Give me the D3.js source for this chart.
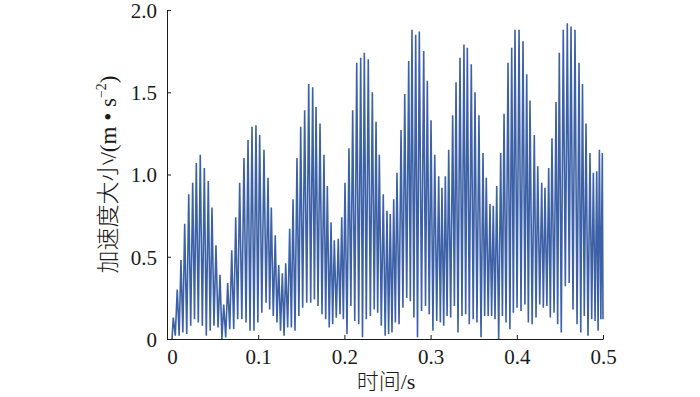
<!DOCTYPE html>
<html>
<head>
<meta charset="utf-8">
<script src="https://cdn.jsdelivr.net/npm/d3@7"></script>
<style>
  body { margin: 0; background: #fff; }
  .axis path, .axis line { stroke: #1a1a1a; stroke-width: 1; }
  .axis text { font-family: "Liberation Serif", "Times New Roman", serif; font-size: 21px; fill: #1a1a1a; }
</style>
</head>
<body>
<div id="chart"></div>
<script>
// Axis ticks
const xTicks = [0, 0.1, 0.2, 0.3, 0.4, 0.5];
const yTicks = [0, 0.5, 1.0, 1.5, 2.0];

// Local maxima of the acceleration trace (time in s, value in m/s^2)
const peakTime = [
  0.0015, 0.0061, 0.0104, 0.0147, 0.0194, 0.0240, 0.0282, 0.0328, 0.0375, 0.0421,
  0.0464, 0.0510, 0.0557, 0.0600, 0.0646, 0.0693, 0.0739, 0.0785, 0.0835, 0.0882,
  0.0928, 0.0974, 0.1017, 0.1067, 0.1114, 0.1152, 0.1198, 0.1238, 0.1280, 0.1319,
  0.1365, 0.1404, 0.1450, 0.1493, 0.1539, 0.1586, 0.1632, 0.1671, 0.1717, 0.1763,
  0.1802, 0.1845, 0.1883, 0.1929, 0.1969, 0.2007, 0.2053, 0.2096, 0.2143, 0.2189,
  0.2231, 0.2277, 0.2324, 0.2367, 0.2405, 0.2451, 0.2494, 0.2532, 0.2572, 0.2610,
  0.2657, 0.2700, 0.2746, 0.2784, 0.2827, 0.2869, 0.2920, 0.2962, 0.3005, 0.3048,
  0.3094, 0.3132, 0.3171, 0.3210, 0.3256, 0.3295, 0.3341, 0.3387, 0.3426, 0.3472,
  0.3515, 0.3561, 0.3608, 0.3646, 0.3689, 0.3727, 0.3767, 0.3813, 0.3852, 0.3898,
  0.3941, 0.3979, 0.4026, 0.4072, 0.4115, 0.4153, 0.4203, 0.4243, 0.4289, 0.4327,
  0.4370, 0.4408, 0.4455, 0.4493, 0.4539, 0.4586, 0.4629, 0.4675, 0.4722, 0.4762,
  0.4803, 0.4849, 0.4888, 0.4927, 0.4958, 0.4992
];
const peakAccel = [
  0.13, 0.30, 0.48, 0.70, 0.88, 0.95, 1.07, 1.12, 1.04, 0.96,
  0.80, 0.57, 0.39, 0.21, 0.34, 0.54, 0.74, 0.95, 1.10, 1.21,
  1.29, 1.30, 1.24, 1.15, 0.98, 0.80, 0.63, 0.45, 0.40, 0.46,
  0.67, 0.85, 1.10, 1.29, 1.39, 1.55, 1.53, 1.41, 1.31, 1.12,
  0.93, 0.71, 0.60, 0.61, 0.74, 0.95, 1.16, 1.39, 1.68, 1.71,
  1.74, 1.70, 1.50, 1.32, 1.12, 0.88, 0.78, 0.76, 0.85, 1.01,
  1.27, 1.49, 1.69, 1.88, 1.85, 1.87, 1.75, 1.57, 1.33, 1.12,
  0.99, 0.92, 0.99, 1.15, 1.36, 1.56, 1.71, 1.79, 1.77, 1.67,
  1.50, 1.36, 1.13, 0.98, 0.82, 0.81, 0.93, 1.13, 1.37, 1.68,
  1.77, 1.88, 1.88, 1.81, 1.61, 1.45, 1.24, 1.05, 0.95, 0.92,
  1.04, 1.22, 1.44, 1.74, 1.88, 1.92, 1.90, 1.88, 1.68, 1.55,
  1.31, 1.13, 1.01, 1.02, 1.15, 1.13
];

// Local minima of the trace
const troughTime = [
  0.0000, 0.0038, 0.0083, 0.0126, 0.0171, 0.0217, 0.0261, 0.0305, 0.0352, 0.0398,
  0.0443, 0.0487, 0.0534, 0.0579, 0.0623, 0.0670, 0.0716, 0.0762, 0.0810, 0.0859,
  0.0905, 0.0951, 0.0996, 0.1042, 0.1091, 0.1133, 0.1175, 0.1218, 0.1259, 0.1300,
  0.1342, 0.1385, 0.1427, 0.1472, 0.1516, 0.1563, 0.1609, 0.1652, 0.1694, 0.1740,
  0.1783, 0.1824, 0.1864, 0.1906, 0.1949, 0.1988, 0.2030, 0.2075, 0.2120, 0.2166,
  0.2210, 0.2254, 0.2301, 0.2346, 0.2386, 0.2428, 0.2473, 0.2513, 0.2552, 0.2591,
  0.2634, 0.2679, 0.2723, 0.2765, 0.2806, 0.2848, 0.2895, 0.2941, 0.2984, 0.3027,
  0.3071, 0.3113, 0.3152, 0.3191, 0.3233, 0.3276, 0.3318, 0.3364, 0.3407, 0.3449,
  0.3494, 0.3538, 0.3585, 0.3627, 0.3668, 0.3708, 0.3747, 0.3790, 0.3833, 0.3875,
  0.3920, 0.3960, 0.4003, 0.4049, 0.4094, 0.4134, 0.4178, 0.4223, 0.4266, 0.4308,
  0.4349, 0.4389, 0.4432, 0.4474, 0.4516, 0.4563, 0.4608, 0.4652, 0.4699, 0.4742,
  0.4783, 0.4826, 0.4869, 0.4908, 0.4943, 0.4975, 0.5000
];
const troughAccel = [
  0.00, 0.02, 0.02, 0.04, 0.03, 0.08, 0.12, 0.10, 0.08, 0.02,
  0.05, 0.08, 0.07, 0.00, 0.01, 0.06, 0.06, 0.12, 0.12, 0.10,
  0.05, 0.05, 0.10, 0.16, 0.22, 0.18, 0.14, 0.10, 0.05, 0.02,
  0.07, 0.07, 0.05, 0.14, 0.19, 0.22, 0.22, 0.24, 0.20, 0.15,
  0.12, 0.07, 0.09, 0.13, 0.15, 0.12, 0.03, 0.20, 0.11, 0.09,
  0.01, 0.12, 0.14, 0.18, 0.16, 0.08, 0.02, 0.03, 0.04, 0.10,
  0.09, 0.19, 0.25, 0.23, 0.13, 0.01, 0.17, 0.20, 0.15, 0.05,
  0.11, 0.10, 0.08, 0.14, 0.13, 0.20, 0.04, 0.14, 0.15, 0.09,
  0.12, 0.10, 0.01, 0.14, 0.14, 0.14, 0.12, 0.00, 0.14, 0.10,
  0.06, 0.16, 0.19, 0.17, 0.21, 0.10, 0.09, 0.13, 0.21, 0.19,
  0.20, 0.13, 0.16, 0.09, 0.04, 0.32, 0.34, 0.18, 0.09, 0.04,
  0.14, 0.02, 0.12, 0.11, 0.05, 0.12, 0.12
];

const width = 700, height = 397;
const margin = { top: 10, right: 97, bottom: 58, left: 167 };

const svg = d3.select("#chart").append("svg")
  .attr("width", width)
  .attr("height", height);

// x starts a little before 0 so the 0 tick sits off the corner
const x = d3.scaleLinear()
  .domain([-0.0058, 0.5])
  .range([margin.left, width - margin.right]);
const y = d3.scaleLinear()
  .domain([0, 2])
  .range([height - margin.bottom, margin.top]);

// interleave minima and maxima into one trace
const trace = [];
troughTime.forEach((t, i) => {
  trace.push({ t: t, a: troughAccel[i] });
  if (i < peakTime.length) trace.push({ t: peakTime[i], a: peakAccel[i] });
});
trace.sort((p, q) => p.t - q.t);

const fmt = d => d === 0 ? "0" : d.toFixed(1);

svg.append("g")
  .attr("class", "axis")
  .attr("transform", `translate(0,${height - margin.bottom})`)
  .call(d3.axisBottom(x).tickValues(xTicks).tickFormat(fmt)
    .tickSizeInner(-4).tickSizeOuter(0).tickPadding(10));

svg.append("g")
  .attr("class", "axis")
  .attr("transform", `translate(${margin.left},0)`)
  .call(d3.axisLeft(y).tickValues(yTicks).tickFormat(fmt)
    .tickSizeInner(-4).tickSizeOuter(0).tickPadding(10))
  .selectAll("text").attr("dy", "0.35em");

svg.append("path")
  .datum(trace)
  .attr("fill", "none")
  .attr("stroke", "#3d61a6")
  .attr("stroke-width", 1.6)
  .attr("stroke-linejoin", "miter")
  .attr("d", d3.line().x(d => x(d.t)).y(d => y(d.a)));

// axis titles
svg.append("text")
  .attr("x", (margin.left + width - margin.right) / 2 + 1)
  .attr("y", 389)
  .attr("text-anchor", "middle")
  .style("font-size", "22px")
  .style("fill", "#1a1a1a")
  .call(t => {
    t.append("tspan").style("font-family", "'Noto Sans CJK SC'").style("font-weight", 300).text("时间");
    t.append("tspan").style("font-family", "'Liberation Serif', serif").text("/s");
  });

svg.append("text")
  .attr("transform", `translate(108,${(margin.top + height - margin.bottom) / 2}) rotate(-90)`)
  .attr("text-anchor", "middle")
  .attr("dy", "0.35em")
  .style("font-size", "23px")
  .style("fill", "#1a1a1a")
  .call(t => {
    t.append("tspan").style("font-family", "'Noto Sans CJK SC'").style("font-weight", 300).text("加速度大小");
    t.append("tspan").style("font-family", "'Liberation Serif', serif").text("/(m • s");
    t.append("tspan").style("font-family", "'Liberation Serif', serif")
      .style("font-size", "14px").attr("dy", "-10").text("−2");
    t.append("tspan").style("font-family", "'Liberation Serif', serif").attr("dy", "10").text(")");
  });
</script>
</body>
</html>
